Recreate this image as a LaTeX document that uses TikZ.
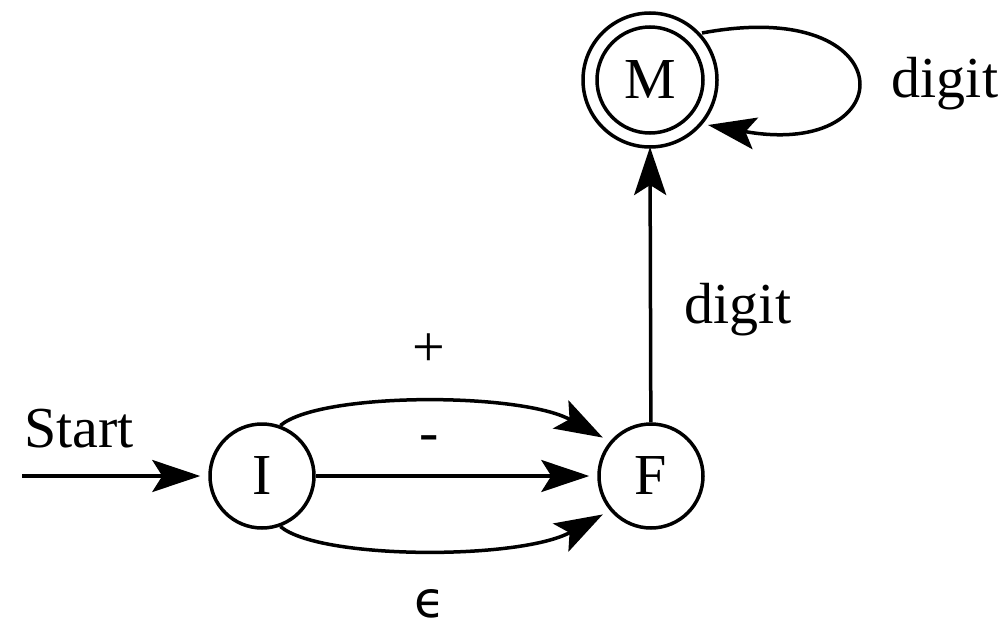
\documentclass[tikz,border=0pt]{standalone}
\usepackage{fontspec}
\setmainfont{Liberation Serif}
\newfontfamily\lblfont{Liberation Serif}
\newfontfamily\epsfont{DejaVu Sans}
\usetikzlibrary{arrows.meta,calc}
\tikzset{
  state/.style={circle,draw,line width=3.5pt,inner sep=0pt,font=\lblfont\fontsize{58}{60}\selectfont},
  lbl/.style={inner sep=0pt,anchor=base,font=\lblfont\fontsize{58}{60}\selectfont},
  edge/.style={line width=3.5pt,-{Stealth[length=48pt,width=32pt,inset=10pt]},shorten >=8pt},
}
\begin{document}
\begin{tikzpicture}[x=1pt,y=-1pt]
\useasboundingbox (0,0) rectangle (1006,629);
\node[state,minimum size=104pt] (I) at (262,476) {I};
\node[state,minimum size=104pt] (F) at (651,476) {F};
\node[state,minimum size=106pt] (M) at (650,80) {M};
\draw[line width=3.5pt] (M.center) circle[radius=67pt];
\coordinate (Mout) at ($(M.center)+(52,-47)$);
\coordinate (Min) at ($(M.center)+(58,45)$);
\coordinate (Mbot) at ($(M.center)+(0,67)$);
\coordinate (start) at (22,476);
\node[lbl] (startlbl) at (79,447) {Start};
\draw[edge] (start) -- (I);
\draw[edge] (I) -- (F);
\draw[edge] (I.70) .. controls (320,392) and (520,392) .. (F.140);
\draw[edge] (I.-70) .. controls (320,560) and (520,560) .. (F.-140);
\draw[edge,shorten >=0pt] (F) -- (Mbot);
\draw[edge,shorten >=0pt] (Mout) .. controls (905,-5) and (905,160) .. (Min);
\node[lbl] (plus) at (429,366) {+};
\node[lbl] (minus) at (429,451) {-};
\node[inner sep=0pt,anchor=base,font=\epsfont\fontsize{50}{52}\selectfont] (eps) at (430,617) {ϵ};
\node[lbl] (digit1) at (738,323) {digit};
\node[lbl] (digit2) at (945,97) {digit};
\end{tikzpicture}
\end{document}
